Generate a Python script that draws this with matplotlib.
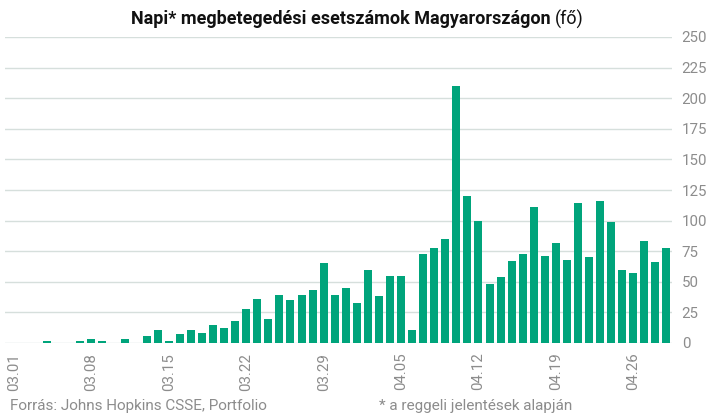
import matplotlib
matplotlib.use("Agg")
import matplotlib.pyplot as plt
import numpy as np

# daily new cases, 03.01 .. 04.29
march = [0, 0, 0, 2, 0, 0, 2, 3, 2, 0,
         3, 0, 6, 11, 2, 7, 11, 8, 15, 12,
         18, 28, 36, 20, 39, 35, 39, 43, 65, 39,
         45]
april = [33, 60, 38, 55, 55, 11, 73, 78, 85, 210,
         120, 100, 48, 54, 67, 73, 111, 71, 82, 68,
         114, 70, 116, 99, 60, 57, 83, 66, 78]
values = march + april
dates = [f"03.{d:02d}" for d in range(1, 32)] + [f"04.{d:02d}" for d in range(1, 30)]
tick_idx = list(range(0, len(dates), 7))
yticks = list(range(0, 251, 25))

BAR = "#00a47b"
GRID = "#d6dfdc"
TXT = "#8c8c8c"

plt.rcParams["font.family"] = ["Roboto", "DejaVu Sans"]

fig = plt.figure(figsize=(7.18, 4.17), dpi=100)
ax = fig.add_axes([5 / 718, 1 - 343 / 417, 667 / 718, 306 / 417])

x = np.arange(len(values))
ax.bar(x, values, width=0.72, color=BAR, zorder=3)

ax.set_ylim(0, 250)
ax.set_xlim(-9 / 11.06, 59.5)
ax.set_yticks(yticks)
ax.yaxis.tick_right()
ax.tick_params(axis="y", length=0, pad=7, labelsize=10.8, labelcolor=TXT)
ax.set_xticks(tick_idx)
ax.set_xticklabels([dates[i] for i in tick_idx], rotation=90)
ax.tick_params(axis="x", length=0, pad=7, labelsize=10.8, labelcolor=TXT)
ax.grid(axis="y", color=GRID, linewidth=1, zorder=0)
for s in ax.spines.values():
    s.set_visible(False)

# title: bold part + regular unit
fig.text(551 / 718, 1 - 19 / 417, "Napi* megbetegedési esetszámok Magyarországon",
         ha="right", va="center", fontsize=13, weight="bold", color="#111111")
fig.text(555 / 718, 1 - 19 / 417, "(fő)", ha="left", va="center",
         fontsize=13, color="#111111")

fig.text(10 / 718, 1 - 406 / 417, "Forrás: Johns Hopkins CSSE, Portfolio",
         ha="left", va="center", fontsize=11, color=TXT)
fig.text(379 / 718, 1 - 406 / 417, "* a reggeli jelentések alapján",
         ha="left", va="center", fontsize=11, color=TXT)

fig.savefig("out.png", dpi=100)
